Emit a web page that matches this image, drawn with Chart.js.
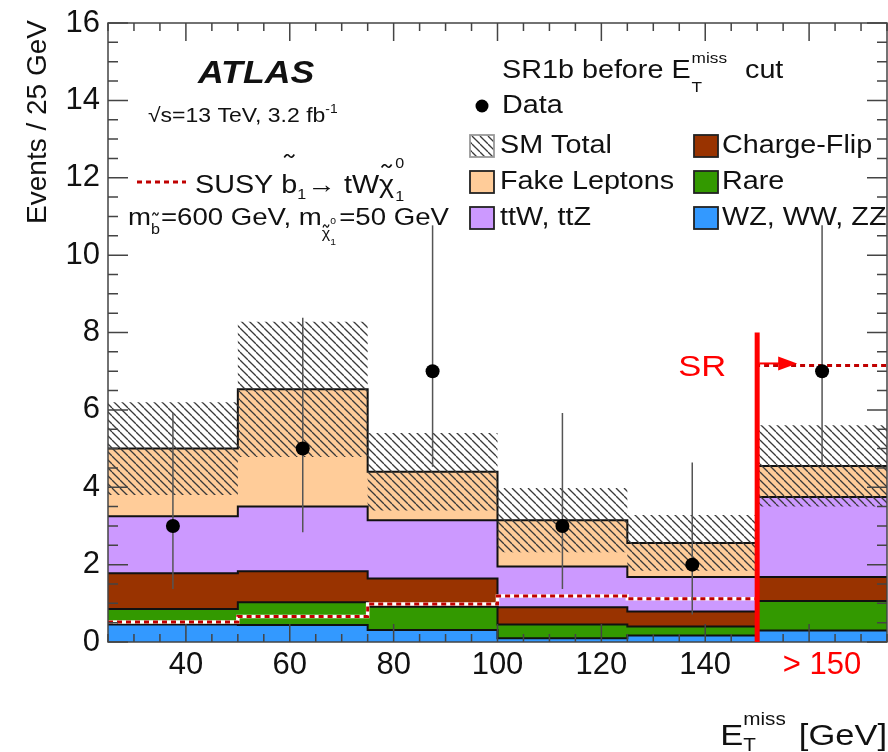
<!DOCTYPE html>
<html lang="en">
<head>
<meta charset="UTF-8">
<title>SR1b before ETmiss cut</title>
<script src="https://cdn.jsdelivr.net/npm/chart.js"></script>
<style>
  body { margin: 0; background: #fff; overflow: hidden; }
  #chart-container { width: 888px; height: 752px; position: relative; }
</style>
</head>
<body>
<div id="chart-container"><canvas id="metChart"></canvas></div>
<script>
// bin edges in GeV, last bin is the overflow (> 150)
const binEdges = [25, 50, 75, 100, 125, 150, 175];
const binCentres = [37.5, 62.5, 87.5, 112.5, 137.5, 162.5];

// backgrounds, events per bin
const dibosonVals    = [0.45, 0.44, 0.31, 0.10, 0.17, 0.30];   // WZ, WW, ZZ
const rareVals       = [0.40, 0.59, 0.60, 0.35, 0.23, 0.76];
const chargeFlipVals = [0.93, 0.80, 0.73, 0.45, 0.39, 0.62];
const ttVVals        = [1.47, 1.67, 1.51, 1.05, 0.89, 2.07];   // ttW, ttZ
const fakeVals       = [1.75, 3.03, 1.25, 1.20, 0.88, 0.80];
const smUncert       = [1.20, 1.75, 1.00, 0.83, 0.72, 1.05];

// signal model
const susyVals = [0.52, 0.66, 0.98, 1.19, 1.12, 7.15];

// data with poisson errors
const dataVals = [3, 5, 7, 3, 2, 7];
const dataLow  = [1.37, 2.84, 4.53, 1.37, 0.71, 4.53];
const dataHigh = [5.92, 8.38, 10.77, 5.92, 4.64, 10.77];

const xTickVals   = [40, 60, 80, 100, 120, 140, 162.5];
const xTickLabels = ['40', '60', '80', '100', '120', '140', '> 150'];
const yTickVals   = [0, 2, 4, 6, 8, 10, 12, 14, 16];

const srCut = 150;
const srTop = 8.0;
const srArrowY = 7.2;

const FONT = '"Liberation Sans", Arial, Helvetica, sans-serif';
const SX = 1.15; // reference picture is a bit stretched sideways

function stepPoints(vals) {
  const pts = vals.map((v, i) => ({x: binEdges[i], y: v}));
  pts.push({x: binEdges[binEdges.length - 1], y: vals[vals.length - 1]});
  return pts;
}
function addUp(a, b) { return a.map((v, i) => v + b[i]); }

const cumDiboson = dibosonVals;
const cumRare = addUp(cumDiboson, rareVals);
const cumCF = addUp(cumRare, chargeFlipVals);
const cumTTV = addUp(cumCF, ttVVals);
const cumFake = addUp(cumTTV, fakeVals);
const smLow = cumFake.map((v, i) => v - smUncert[i]);
const smHigh = cumFake.map((v, i) => v + smUncert[i]);

function makeHatch() {
  const s = 8;
  const c = document.createElement('canvas');
  c.width = s; c.height = s;
  const g = c.getContext('2d');
  g.strokeStyle = '#3a3a3a';
  g.lineWidth = 1.3;
  [-s, 0, s].forEach(function (x0) {
    g.beginPath(); g.moveTo(x0, 0); g.lineTo(x0 + s, s); g.stroke();
  });
  return g.createPattern(c, 'repeat');
}
const hatch = makeHatch();

function stackSet(label, vals, color, fill, order) {
  return {
    label: label, data: stepPoints(vals), stepped: true,
    borderColor: '#111', borderWidth: 2, backgroundColor: color,
    fill: fill, pointRadius: 0, order: order
  };
}

const DATA_IDX = 9;
const datasets = [
  stackSet('WZ, WW, ZZ', cumDiboson, '#3399ff', 'origin', 11),
  stackSet('Rare', cumRare, '#339900', 0, 12),
  stackSet('Charge-Flip', cumCF, '#993300', 1, 13),
  stackSet('ttW, ttZ', cumTTV, '#cc99ff', 2, 14),
  stackSet('Fake Leptons', cumFake, '#ffcc99', 3, 15),
  {label: 'smLow', data: stepPoints(smLow), stepped: true, borderWidth: 0,
   pointRadius: 0, fill: false, order: 9},
  {label: 'SM Total', data: stepPoints(smHigh), stepped: true, borderWidth: 0,
   pointRadius: 0, fill: 5, backgroundColor: hatch, order: 8},
  {label: 'susyBase', data: stepPoints(susyVals), stepped: true, borderColor: '#fff',
   borderWidth: 3.5, pointRadius: 0, fill: false, order: 4},
  {label: 'SUSY', data: stepPoints(susyVals), stepped: true, borderColor: '#c00000',
   borderWidth: 3, borderDash: [5, 4], pointRadius: 0, fill: false, order: 3},
  {label: 'Data', data: binCentres.map((c, i) => ({x: c, y: dataVals[i]})),
   showLine: false, pointRadius: 7, pointBackgroundColor: '#000', pointBorderWidth: 0, order: 1}
];

// text helpers
function put(ctx, str, x, y, size, color, style) {
  ctx.save();
  ctx.font = (style || '') + ' ' + size + 'px ' + FONT;
  ctx.fillStyle = color || '#111';
  ctx.textBaseline = 'alphabetic';
  ctx.translate(x, y);
  ctx.scale(SX, 1);
  ctx.fillText(str, 0, 0);
  const w = ctx.measureText(str).width * SX;
  ctx.restore();
  return x + w;
}
function drawTilde(ctx, cx, cy, w, lw) {
  ctx.save();
  ctx.strokeStyle = '#111';
  ctx.lineWidth = lw || 1.6;
  ctx.beginPath();
  ctx.moveTo(cx - w / 2, cy + 1.5);
  ctx.quadraticCurveTo(cx - w / 4, cy - 3, cx, cy);
  ctx.quadraticCurveTo(cx + w / 4, cy + 3, cx + w / 2, cy - 1.5);
  ctx.stroke();
  ctx.restore();
}
function swatch(ctx, x, y, fill, border) {
  ctx.save();
  ctx.fillStyle = '#fff';
  ctx.fillRect(x, y, 24, 22);
  ctx.fillStyle = fill;
  ctx.fillRect(x, y, 24, 22);
  ctx.strokeStyle = border || '#222';
  ctx.lineWidth = 1.8;
  ctx.strokeRect(x, y, 24, 22);
  ctx.restore();
}

const decorPlugin = {
  id: 'decor',
  beforeDatasetDraw(chart, args) {
    if (args.index !== DATA_IDX) return;
    const ctx = chart.ctx, xs = chart.scales.x, ys = chart.scales.y;
    ctx.save();
    ctx.strokeStyle = '#555';
    ctx.lineWidth = 1.5;
    binCentres.forEach(function (c, i) {
      const px = xs.getPixelForValue(c);
      ctx.beginPath();
      ctx.moveTo(px, ys.getPixelForValue(dataLow[i]));
      ctx.lineTo(px, ys.getPixelForValue(dataHigh[i]));
      ctx.stroke();
    });
    ctx.restore();
  },
  afterDatasetsDraw(chart) {
    const ctx = chart.ctx, ca = chart.chartArea, xs = chart.scales.x, ys = chart.scales.y;
    ctx.save();
    // frame and inward ticks
    ctx.strokeStyle = '#444';
    ctx.lineWidth = 1.5;
    ctx.strokeRect(ca.left, ca.top, ca.right - ca.left, ca.bottom - ca.top);
    ctx.beginPath();
    for (let v = 25; v <= 175; v += 5) {
      const px = xs.getPixelForValue(v);
      const len = v % 20 === 0 ? 18 : 8;
      ctx.moveTo(px, ca.bottom); ctx.lineTo(px, ca.bottom - len);
      ctx.moveTo(px, ca.top); ctx.lineTo(px, ca.top + len);
    }
    for (let v = 0; v <= 16; v += 0.5) {
      const py = ys.getPixelForValue(v);
      const len = v % 2 === 0 ? 20 : 10;
      ctx.moveTo(ca.left, py); ctx.lineTo(ca.left + len, py);
      ctx.moveTo(ca.right, py); ctx.lineTo(ca.right - len, py);
    }
    ctx.stroke();

    // signal region line and arrow
    const sx = xs.getPixelForValue(srCut);
    ctx.strokeStyle = '#ff0000';
    ctx.lineWidth = 5;
    ctx.beginPath();
    ctx.moveTo(sx, ys.getPixelForValue(srTop));
    ctx.lineTo(sx, ys.getPixelForValue(0));
    ctx.stroke();
    const ay = ys.getPixelForValue(srArrowY);
    ctx.lineWidth = 2;
    ctx.beginPath();
    ctx.moveTo(sx + 2, ay); ctx.lineTo(sx + 26, ay);
    ctx.stroke();
    ctx.fillStyle = '#ff0000';
    ctx.beginPath();
    ctx.moveTo(sx + 40, ay); ctx.lineTo(sx + 21, ay - 7); ctx.lineTo(sx + 21, ay + 7);
    ctx.closePath(); ctx.fill();
    put(ctx, 'SR', sx - 79, ay + 13, 30, '#ff0000');
    ctx.restore();
  },
  afterDraw(chart) {
    const ctx = chart.ctx;

    // axis titles
    ctx.save();
    ctx.font = '28px ' + FONT;
    ctx.fillStyle = '#111';
    ctx.textAlign = 'right';
    ctx.translate(46, 20);
    ctx.rotate(-Math.PI / 2);
    ctx.fillText('Events / 25 GeV', 0, 0);
    ctx.restore();

    ctx.save();
    ctx.font = '30px ' + FONT;
    const gevW = ctx.measureText('[GeV]').width * SX;
    ctx.font = '18px ' + FONT;
    const missW = ctx.measureText('miss').width * SX;
    ctx.restore();
    let tx = 887 - gevW - 12 - missW - 24;
    tx = put(ctx, 'E', tx, 745, 30);
    put(ctx, 'miss', tx, 725, 18);
    put(ctx, 'T', tx, 751, 18);
    put(ctx, '[GeV]', 887 - gevW, 745, 30);

    // ATLAS label
    put(ctx, 'ATLAS', 198, 83, 31, '#111', 'italic bold');
    let x = put(ctx, '\u221As=13 TeV, 3.2 fb', 148, 122, 20);
    put(ctx, '-1', x, 113, 12);

    // signal legend
    ctx.save();
    ctx.strokeStyle = '#c00000';
    ctx.lineWidth = 3;
    ctx.setLineDash([5, 4]);
    ctx.beginPath(); ctx.moveTo(137, 182); ctx.lineTo(186, 182); ctx.stroke();
    ctx.restore();
    x = put(ctx, 'SUSY ', 195, 193, 25);
    let x0 = x;
    x = put(ctx, 'b', x, 193, 25);
    drawTilde(ctx, (x0 + x) / 2, 156, 10);
    x = put(ctx, '1', x, 199, 14);
    x = put(ctx, '\u2192 tW', x + 1, 193, 25);
    x0 = x;
    x = put(ctx, '\u03C7', x, 193, 25);
    drawTilde(ctx, (x0 + x) / 2, 166, 10);
    put(ctx, '0', x + 1, 168, 14);
    put(ctx, '1', x + 1, 201, 14);

    x = put(ctx, 'm', 128, 225, 24);
    x0 = x;
    x = put(ctx, 'b', x, 234, 14);
    drawTilde(ctx, (x0 + x) / 2, 214, 6, 1.2);
    x = put(ctx, '=600 GeV, m', x + 1, 225, 24);
    x0 = x;
    x = put(ctx, '\u03C7', x, 238, 14);
    drawTilde(ctx, (x0 + x) / 2, 226, 6, 1.2);
    put(ctx, '0', x, 224, 9);
    put(ctx, '1', x, 245, 9);
    put(ctx, '=50 GeV', x + 9, 225, 24);

    // background legend
    x = put(ctx, 'SR1b before E', 502, 78, 25);
    put(ctx, 'miss', x + 1, 63, 15);
    put(ctx, 'T', x + 1, 92, 15);
    put(ctx, 'cut', 745, 78, 25);

    ctx.save();
    ctx.fillStyle = '#000';
    ctx.beginPath(); ctx.arc(482, 106, 6.5, 0, Math.PI * 2); ctx.fill();
    ctx.restore();
    put(ctx, 'Data', 502, 113, 25);

    const rows = [153, 189, 225];
    swatch(ctx, 470, rows[0] - 18, hatch, '#999');
    put(ctx, 'SM Total', 500, rows[0], 25);
    swatch(ctx, 470, rows[1] - 18, '#ffcc99');
    put(ctx, 'Fake Leptons', 500, rows[1], 25);
    swatch(ctx, 470, rows[2] - 18, '#cc99ff');
    put(ctx, 'ttW, ttZ', 500, rows[2], 25);
    swatch(ctx, 694, rows[0] - 18, '#993300');
    put(ctx, 'Charge-Flip', 722, rows[0], 25);
    swatch(ctx, 694, rows[1] - 18, '#339900');
    put(ctx, 'Rare', 722, rows[1], 25);
    swatch(ctx, 694, rows[2] - 18, '#3399ff');
    put(ctx, 'WZ, WW, ZZ', 722, rows[2], 25);
  }
};

Chart.defaults.font.family = FONT;
Chart.defaults.color = '#111';

const ctx = document.getElementById('metChart').getContext('2d');
new Chart(ctx, {
  type: 'line',
  data: { datasets: datasets },
  options: {
    responsive: true,
    maintainAspectRatio: false,
    animation: false,
    events: [],
    layout: { autoPadding: false, padding: { top: 23, right: 1, left: 0, bottom: 0 } },
    plugins: { legend: { display: false }, tooltip: { enabled: false } },
    scales: {
      x: {
        type: 'linear', min: 25, max: 175,
        grid: { display: false, drawTicks: false },
        border: { display: false },
        afterBuildTicks: function (scale) {
          scale.ticks = xTickVals.map(v => ({ value: v }));
        },
        afterFit: function (scale) {
          scale.height = 110;
          scale.paddingLeft = 0;
          scale.paddingRight = 0;
        },
        ticks: {
          autoSkip: false, maxRotation: 0, padding: 5,
          font: { size: 31 },
          color: c => (c.tick && c.tick.value === 162.5 ? '#ff0000' : '#111'),
          callback: v => xTickLabels[xTickVals.indexOf(v)]
        }
      },
      y: {
        min: 0, max: 16,
        grid: { display: false, drawTicks: false },
        border: { display: false },
        afterBuildTicks: function (scale) {
          scale.ticks = yTickVals.map(v => ({ value: v }));
        },
        afterFit: function (scale) {
          scale.width = 108;
          scale.paddingTop = 0;
          scale.paddingBottom = 0;
        },
        ticks: { padding: 8, font: { size: 31 } }
      }
    }
  },
  plugins: [decorPlugin]
});
</script>
</body>
</html>
